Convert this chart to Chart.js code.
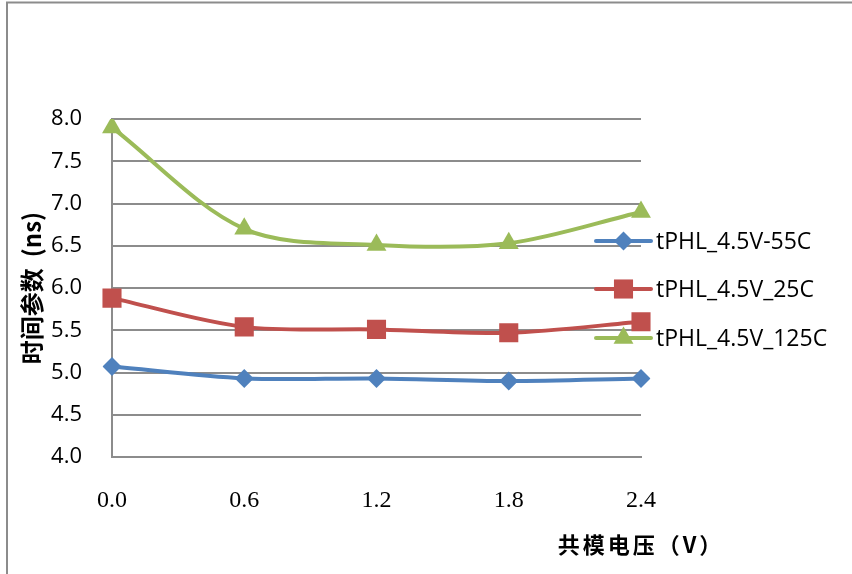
<!DOCTYPE html>
<html>
<head>
<meta charset="utf-8">
<script src="https://cdn.jsdelivr.net/npm/chart.js@4/dist/chart.umd.min.js"></script>
<style>
  html, body { margin: 0; padding: 0; background: #ffffff; }
  #wrap { width: 852px; height: 574px; position: relative; }
</style>
</head>
<body>
<div id="wrap"><canvas id="c" width="852" height="574"></canvas></div>
<script>
// Common-mode voltage (V) on the category axis
const voltages = ['0.0', '0.6', '1.2', '1.8', '2.4'];
// Series names
const seriesNames = ['tPHL_4.5V-55C', 'tPHL_4.5V_25C', 'tPHL_4.5V_125C'];
// Propagation delay tPHL (ns) at each voltage
const tphlM55 = [5.07, 4.93, 4.93, 4.90, 4.93];
const tphl25  = [5.88, 5.54, 5.51, 5.47, 5.60];
const tphl125 = [7.90, 6.70, 6.51, 6.53, 6.90];
// Axis texts
const yTitle = '时间参数  (ns)';
const xTitle = '共模电压（V）';

const colors = ['#4F81BD', '#C0504D', '#9BBB59'];
const styles = [
  { pointStyle: 'rectRot', radius: 9.5 },
  { pointStyle: 'rect', radius: 13.5 },
  { pointStyle: 'triangle', radius: 11.5 }
];
const values = [tphlM55, tphl25, tphl125];

const datasets = values.map((v, i) => ({
  label: seriesNames[i],
  data: v,
  borderColor: colors[i],
  backgroundColor: colors[i],
  borderWidth: 4,
  tension: 0.32,
  pointStyle: styles[i].pointStyle,
  pointRadius: styles[i].radius,
  pointHoverRadius: styles[i].radius,
  pointBorderWidth: 0,
  pointBackgroundColor: colors[i],
  fill: false
}));

// Outer frame lines (top and left edges)
const framePlugin = {
  id: 'frame',
  beforeDraw(chart) {
    const ctx = chart.ctx;
    ctx.save();
    ctx.strokeStyle = '#8c8c8c';
    ctx.lineWidth = 2;
    ctx.beginPath();
    ctx.moveTo(7, 600);
    ctx.lineTo(7, 2.5);
    ctx.lineTo(900, 2.5);
    ctx.stroke();
    ctx.restore();
  }
};

// Legend: line with marker, then the series name, stacked on the right
const sideLegend = {
  id: 'sideLegend',
  afterDatasetsDraw(chart) {
    const ctx = chart.ctx;
    const rows = [241, 289, 338];
    ctx.save();
    chart.data.datasets.forEach((ds, i) => {
      const y = rows[i];
      ctx.strokeStyle = ds.borderColor;
      ctx.lineWidth = 4;
      ctx.lineCap = 'round';
      ctx.beginPath();
      ctx.moveTo(596, y);
      ctx.lineTo(651, y);
      ctx.stroke();
      ctx.fillStyle = ds.backgroundColor;
      Chart.helpers.drawPoint(ctx, {
        pointStyle: ds.pointStyle,
        radius: ds.pointRadius,
        rotation: 0,
        borderWidth: 0
      }, 623.5, y);
      ctx.fillStyle = '#000000';
      ctx.font = '23px "Open Sans"';
      ctx.textAlign = 'left';
      ctx.textBaseline = 'middle';
      ctx.fillText(ds.label, 656, y + 1);
    });
    ctx.restore();
  }
};

// X-axis title placed under the right part of the plot
const xTitlePlugin = {
  id: 'xTitle',
  afterDraw(chart) {
    const ctx = chart.ctx;
    ctx.save();
    ctx.fillStyle = '#000000';
    ctx.font = 'bold 22px "Noto Sans CJK SC"';
    ctx.textAlign = 'center';
    ctx.textBaseline = 'middle';
    ctx.letterSpacing = '3px';
    ctx.fillText(xTitle, 641, 545);
    ctx.restore();
  }
};

new Chart(document.getElementById('c'), {
  type: 'line',
  data: { labels: voltages, datasets },
  options: {
    responsive: false,
    devicePixelRatio: 1,
    animation: false,
    events: [],
    layout: { padding: { left: 8, top: 119, right: 211, bottom: 57 } },
    plugins: {
      legend: { display: false },
      tooltip: { enabled: false }
    },
    scales: {
      x: {
        type: 'category',
        offset: false,
        grid: { display: false, drawTicks: false },
        border: { display: true, color: '#8c8c8c', width: 2 },
        ticks: {
          color: '#000000',
          padding: 29,
          maxRotation: 0,
          font: { family: '"Liberation Serif"', size: 24 }
        },
        afterFit(scale) { scale.height = 60; }
      },
      y: {
        min: 4,
        max: 8,
        grid: { color: '#8c8c8c', lineWidth: 2, drawTicks: false },
        border: { display: true, color: '#8c8c8c', width: 2 },
        ticks: {
          stepSize: 0.5,
          color: '#000000',
          padding: 30,
          font: { family: '"Open Sans"', size: 22 },
          callback: (v) => Number(v).toFixed(1)
        },
        title: {
          display: true,
          text: yTitle,
          color: '#000000',
          padding: { top: 9, bottom: 0 },
          font: { family: '"Noto Sans CJK SC"', size: 24, weight: 'bold' }
        },
        afterFit(scale) { scale.width = 104; }
      }
    }
  },
  plugins: [framePlugin, sideLegend, xTitlePlugin]
});
</script>
</body>
</html>
